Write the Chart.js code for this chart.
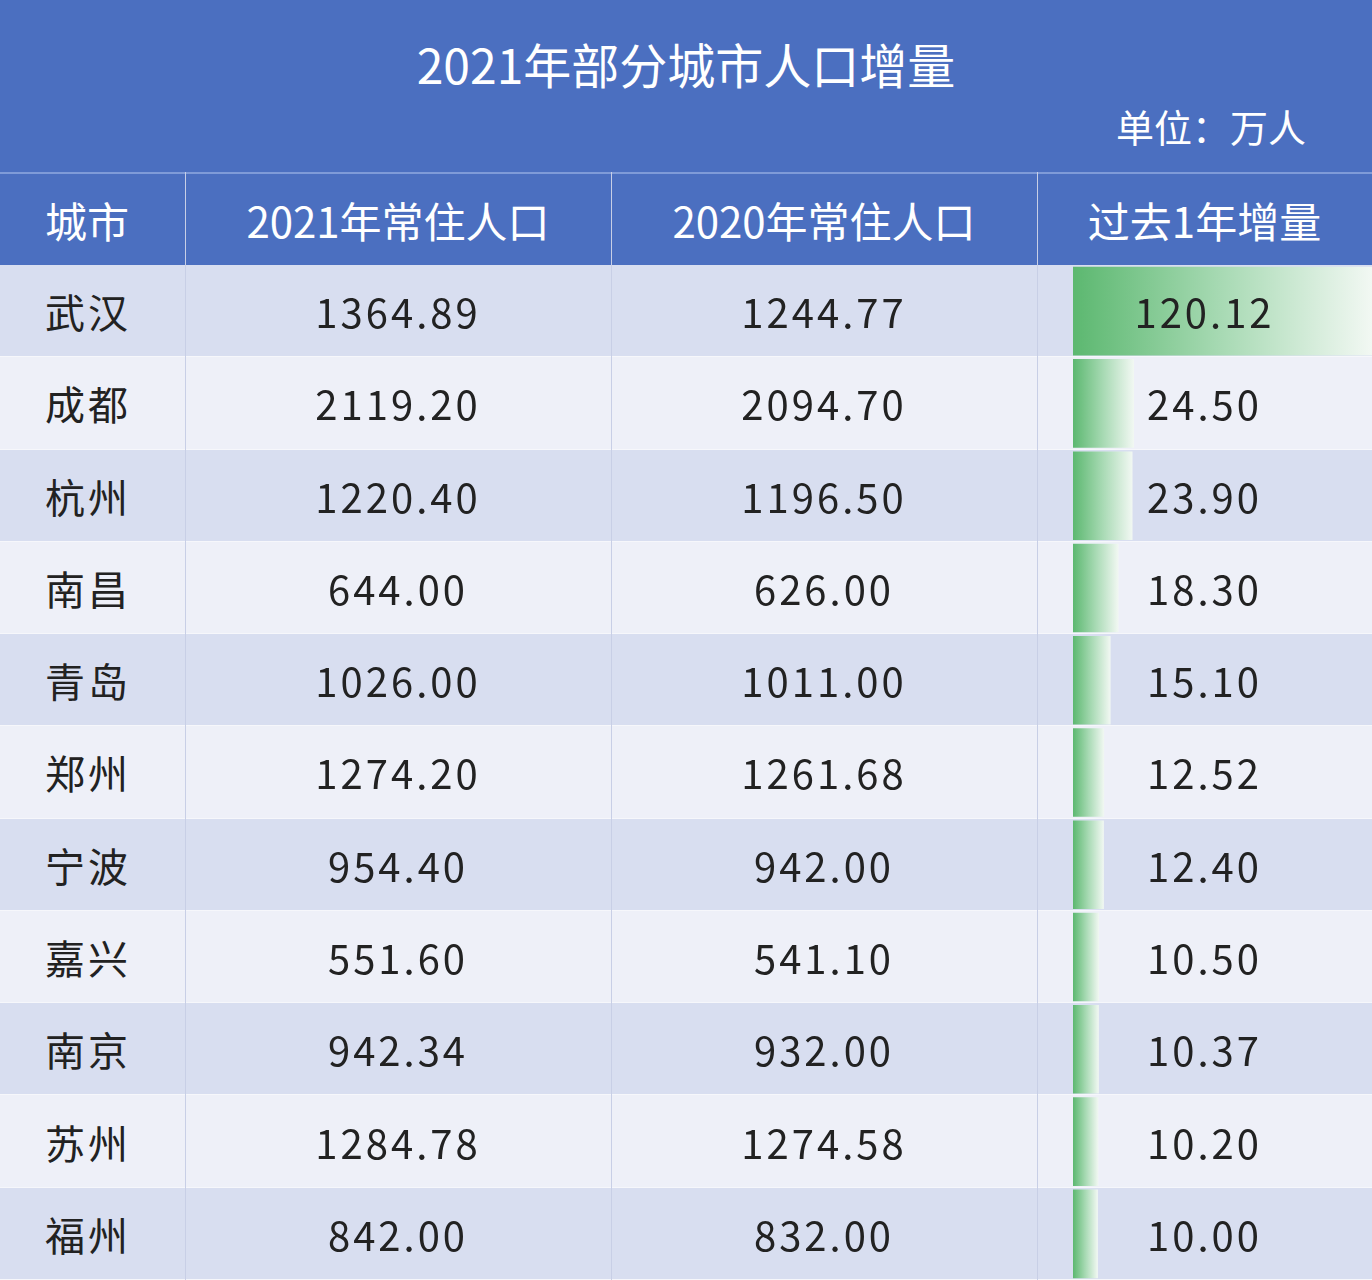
<!DOCTYPE html>
<html><head><meta charset="utf-8">
<script src="https://cdn.jsdelivr.net/npm/chart.js@4/dist/chart.umd.min.js"></script>
<style>
body{margin:0;width:1372px;height:1280px;overflow:hidden;font-family:"Noto Sans CJK SC","Noto Sans",sans-serif;background:#eef0f8;position:relative}
#title{position:absolute;left:0;top:0;width:1372px;height:172px;background:#4b6fc0;color:#fff}
#title .t{position:absolute;left:0;width:1372px;top:28px;text-align:center;font-size:48px}
#title .u{position:absolute;right:66px;top:98px;font-size:38px}
#head{position:absolute;top:172px;left:0;width:1372px;height:93px;background:#4b6fc0;border-top:2px solid #7f9bd8;box-sizing:border-box}
.cell{position:absolute;display:flex;align-items:center;justify-content:center;box-sizing:border-box}
.row{position:absolute;left:0;width:1372px}
.vl{position:absolute;top:172px;bottom:0;width:1px;background:#c8cfe6;z-index:3}
#cw{position:absolute;left:1073px;top:265px;width:299px;height:1015px;z-index:1}
.txt{z-index:2;font-size:40px;color:#222;letter-spacing:3px}
</style></head><body>
<div id="title"><div class="t">2021年部分城市人口增量</div><div class="u">单位：万人</div></div>
<div id="head"></div>
<div id="rows"></div>
<div id="cw"><canvas id="c"></canvas></div>
<script>
const headers=["城市","2021年常住人口","2020年常住人口","过去1年增量"];
const cities=["武汉","成都","杭州","南昌","青岛","郑州","宁波","嘉兴","南京","苏州","福州"];
const pop2021=["1364.89","2119.20","1220.40","644.00","1026.00","1274.20","954.40","551.60","942.34","1284.78","842.00"];
const pop2020=["1244.77","2094.70","1196.50","626.00","1011.00","1261.68","942.00","541.10","932.00","1274.58","832.00"];
const increase=[120.12,24.50,23.90,18.30,15.10,12.52,12.40,10.50,10.37,10.20,10.00];

const cols=[[0,185],[185,611],[611,1037],[1037,1372]];
const top0=265, rh=(1280-265)/11;
const head=document.getElementById('head');
headers.forEach((h,i)=>{const d=document.createElement('div');d.className='cell';
 d.style.cssText=`left:${cols[i][0]}px;width:${cols[i][1]-cols[i][0]}px;top:0;height:91px;color:#fff;font-size:42px;`+(i==0?'justify-content:flex-start;padding-left:45px;':'');
 d.textContent=h;head.appendChild(d);});
const rows=document.getElementById('rows');
cities.forEach((c,r)=>{
 const bg=document.createElement('div');bg.className='row';
 bg.style.cssText=`top:${top0+r*rh}px;height:${rh}px;background:${r%2==0?'#d8def0':'#eef0f8'};border-bottom:1px solid #f6f7fb;box-sizing:border-box`;
 rows.appendChild(bg);
 const vals=[c,pop2021[r],pop2020[r],increase[r].toFixed(2)];
 vals.forEach((v,i)=>{const d=document.createElement('div');d.className='cell txt';
  d.style.cssText+=`left:${cols[i][0]}px;width:${cols[i][1]-cols[i][0]}px;top:${top0+r*rh}px;height:${rh}px;`+(i==0?'justify-content:flex-start;padding-left:45px;':'');
  d.textContent=v;document.body.appendChild(d);});
});
[185,611,1037].forEach(x=>{const l=document.createElement('div');l.className='vl';l.style.left=x+'px';document.body.appendChild(l);});

new Chart(document.getElementById('c'),{type:'bar',
 data:{labels:cities,datasets:[{data:increase,barPercentage:0.96,categoryPercentage:1,
  backgroundColor:(ctx)=>{const ch=ctx.chart;const xs=ch.scales.x;
   if(!xs||!ctx.parsed||!isFinite(ctx.parsed.x))return '#5cb870';
   const x0=xs.getPixelForValue(0),x1=xs.getPixelForValue(ctx.parsed.x);
   if(!isFinite(x0)||!isFinite(x1)||x1<=x0)return '#5cb870';
   const g=ch.ctx.createLinearGradient(x0,0,x1,0);g.addColorStop(0,'#5cb870');g.addColorStop(0.5,'#a8dab4');g.addColorStop(1,'#f2f8f3');return g;}}]},
 options:{indexAxis:'y',responsive:true,maintainAspectRatio:false,animation:false,
  layout:{padding:0},plugins:{legend:{display:false},tooltip:{enabled:false}},
  scales:{x:{display:false,min:0,max:120.12},y:{display:false}}}});
</script></body></html>
